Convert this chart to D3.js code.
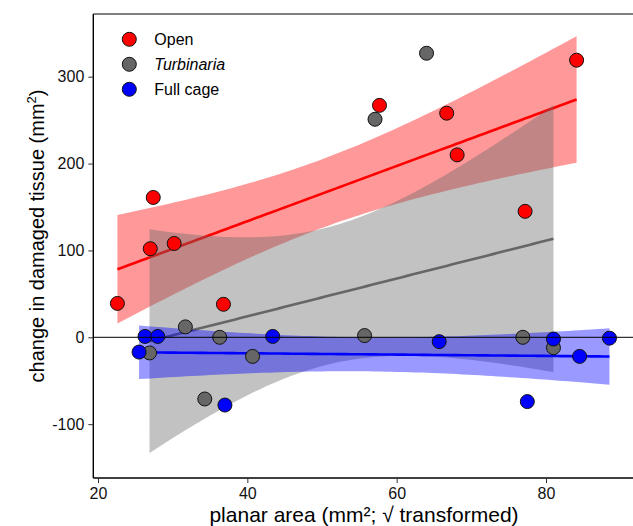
<!DOCTYPE html>
<html>
<head>
<meta charset="utf-8">
<script src="https://cdn.jsdelivr.net/npm/d3@7"></script>
<style>
  body { margin: 0; background: #fff; }
  svg { display: block; font-family: "Liberation Sans", Arial, sans-serif; }
</style>
</head>
<body>
<script>
// treatment groups, in legend order
var groups = ['Open', 'Turbinaria', 'Full cage'];
var colors = ['#FF0000', '#666666', '#0000FF'];

// planar area (sqrt transformed) and change in damaged tissue
var openX = [22.6, 27.4, 27.0, 30.2, 36.8, 57.7, 66.7, 68.1, 77.2, 84.1];
var openY = [39, 161, 102, 108, 38, 267, 258, 210, 145, 319];

var turbX = [26.9, 31.7, 34.3, 36.3, 40.7, 55.7, 57.1, 64.0, 76.9, 81.0];
var turbY = [-18, 12, -71, 0, -22, 2, 251, 327, 0, -12];

var cageX = [25.5, 26.3, 28.0, 37.0, 43.4, 65.7, 77.5, 81.0, 84.5, 88.5];
var cageY = [-17, 1, 1, -78, 1, -5, -74, -2, -22, -1];

var xTicks = [20, 40, 60, 80];
var yTicks = [-100, 0, 100, 200, 300];

var WIDTH = 633;
var HEIGHT = 526;

var svg = d3.select('body').append('svg')
            .attr('width', WIDTH)
            .attr('height', HEIGHT);

var x = d3.scaleLinear().domain([20, 80]).range([98, 546]);
var y = d3.scaleLinear().domain([0, 300]).range([337.3, 76.7]);

var panelLeft = 93.3, panelTop = 14, panelBottom = 478;

// linear model with confidence band
var T_CRIT = 1.9;
function fitBand(xs, ys) {
    var n = xs.length;
    var mx = d3.mean(xs), my = d3.mean(ys);
    var sxx = d3.sum(xs, function(d) { return (d - mx) * (d - mx); });
    var sxy = d3.sum(xs, function(d, i) { return (d - mx) * (ys[i] - my); });
    var b = sxy / sxx;
    var a = my - b * mx;
    var sse = d3.sum(xs, function(d, i) { var r = ys[i] - (a + b * d); return r * r; });
    var s = Math.sqrt(sse / (n - 2));
    var lo = d3.min(xs), hi = d3.max(xs);
    return d3.range(0, 81).map(function(k) {
        var xv = lo + (hi - lo) * k / 80;
        var fit = a + b * xv;
        var se = s * Math.sqrt(1 / n + (xv - mx) * (xv - mx) / sxx);
        return { x: xv, fit: fit, lo: fit - T_CRIT * se, hi: fit + T_CRIT * se };
    });
}

var series = [
    { name: groups[0], xs: openX, ys: openY, color: colors[0] },
    { name: groups[1], xs: turbX, ys: turbY, color: colors[1] },
    { name: groups[2], xs: cageX, ys: cageY, color: colors[2] }
];

var area = d3.area()
             .x(function(d) { return x(d.x); })
             .y0(function(d) { return y(d.lo); })
             .y1(function(d) { return y(d.hi); });
var line = d3.line()
             .x(function(d) { return x(d.x); })
             .y(function(d) { return y(d.fit); });

series.forEach(function(s) {
    var band = fitBand(s.xs, s.ys);
    svg.append('path')
       .attr('d', area(band))
       .attr('fill', s.color)
       .attr('fill-opacity', 0.4);
    svg.append('path')
       .attr('d', line(band))
       .attr('fill', 'none')
       .attr('stroke', s.color)
       .attr('stroke-width', 2.6);
});

// points: Turbinaria first, then Open, then Full cage on top
[series[1], series[0], series[2]].forEach(function(s) {
    svg.append('g').selectAll('circle')
       .data(s.xs)
       .enter()
     .append('circle')
       .attr('cx', function(d) { return x(d); })
       .attr('cy', function(d, i) { return y(s.ys[i]); })
       .attr('r', 7)
       .attr('fill', s.color)
       .attr('stroke', '#111')
       .attr('stroke-width', 1);
});

// zero reference line
svg.append('line')
   .attr('x1', panelLeft).attr('x2', WIDTH)
   .attr('y1', y(0)).attr('y2', y(0))
   .attr('stroke', '#000')
   .attr('stroke-width', 1);

// panel frame (right side runs off the picture)
svg.append('line')
   .attr('x1', panelLeft).attr('x2', WIDTH)
   .attr('y1', panelTop).attr('y2', panelTop)
   .attr('stroke', '#000').attr('stroke-width', 1);
svg.append('line')
   .attr('x1', panelLeft).attr('x2', WIDTH)
   .attr('y1', panelBottom).attr('y2', panelBottom)
   .attr('stroke', '#000').attr('stroke-width', 1.4);
svg.append('line')
   .attr('x1', panelLeft).attr('x2', panelLeft)
   .attr('y1', panelTop).attr('y2', panelBottom)
   .attr('stroke', '#000').attr('stroke-width', 1.4);

// axes
var xAxis = d3.axisBottom(x).tickValues(xTicks).tickSize(5).tickSizeOuter(0);
var gx = svg.append('g')
            .attr('transform', 'translate(0,' + panelBottom + ')')
            .call(xAxis);
gx.select('.domain').remove();
gx.selectAll('.tick line').attr('stroke', '#333');
gx.selectAll('.tick text')
  .attr('font-size', 16)
  .attr('fill', '#111')
  .attr('font-family', '"Liberation Sans", Arial, sans-serif')
  .attr('dy', '0.8em');

var yAxis = d3.axisLeft(y).tickValues(yTicks).tickSize(5).tickSizeOuter(0)
              .tickFormat(function(d) { return String(d); });
var gy = svg.append('g')
            .attr('transform', 'translate(' + panelLeft + ',0)')
            .call(yAxis);
gy.select('.domain').remove();
gy.selectAll('.tick line').attr('stroke', '#333');
gy.selectAll('.tick text')
  .attr('font-size', 16)
  .attr('fill', '#111')
  .attr('font-family', '"Liberation Sans", Arial, sans-serif')
  .attr('x', -9);

// axis titles
svg.append('text')
   .attr('x', 364)
   .attr('y', 522)
   .attr('text-anchor', 'middle')
   .attr('font-size', 21)
   .attr('fill', '#000')
   .text('planar area (mm\u00B2; \u221A transformed)');

var yt = svg.append('text')
            .attr('transform', 'translate(44,236) rotate(-90)')
            .attr('text-anchor', 'middle')
            .attr('font-size', 20)
            .attr('fill', '#000');
yt.append('tspan').text('change in damaged tissue (mm');
yt.append('tspan').text('2').attr('font-size', 13).attr('dy', -8);
yt.append('tspan').text(')').attr('dy', 8);

// legend
var legend = svg.append('g');
groups.forEach(function(g, i) {
    var row = legend.append('g').attr('transform', 'translate(129.3,' + (39.3 + i * 25) + ')');
    row.append('circle')
       .attr('r', 7)
       .attr('fill', colors[i])
       .attr('stroke', '#111')
       .attr('stroke-width', 1);
    row.append('text')
       .attr('x', 25)
       .attr('y', 6)
       .attr('font-size', 16)
       .attr('font-style', g === 'Turbinaria' ? 'italic' : 'normal')
       .attr('fill', '#000')
       .text(g);
});
</script>
</body>
</html>
